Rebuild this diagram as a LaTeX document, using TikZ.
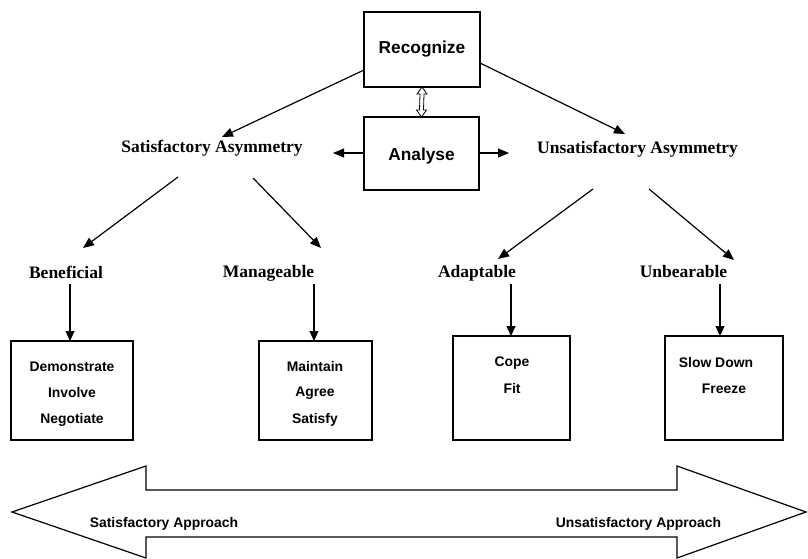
\documentclass[tikz,border=0pt]{standalone}
\usepackage{fontspec}
\setmainfont{Liberation Serif}
\setsansfont{Liberation Sans}
\usetikzlibrary{arrows.meta,calc}
\begin{document}
\begin{tikzpicture}[x=1pt,y=-1pt,
  lab/.style={font=\rmfamily\bfseries\fontsize{17.5}{20}\selectfont, inner sep=0pt},
  boxtxt/.style={font=\sffamily\bfseries\fontsize{13.9}{16}\selectfont, inner sep=0pt},
  bigtxt/.style={font=\sffamily\bfseries\fontsize{17.3}{20}\selectfont, inner sep=0pt},
  frame/.style={draw, line width=1.4pt, inner sep=0pt, outer sep=0pt},
  conn/.style={line width=1.2pt, -{Triangle[length=11pt,width=9pt]}},
  vconn/.style={line width=1.2pt, -{Triangle[length=10pt,width=9pt]}}]
\useasboundingbox (0,0) rectangle (808,559);
% top boxes
\node[frame, minimum width=116pt, minimum height=75pt] (rec) at (422,49.5) {};
\node[bigtxt] (rect) at (422,49) {Recognize};
\node[frame, minimum width=115pt, minimum height=73pt] (ana) at (421.5,153.5) {};
\node[bigtxt] (anat) at (421.5,156) {Analyse};
% double arrow between
\draw[line width=0.8pt] (rec.south) -- ++(5,7) -- ++(-3,0) -- ($(ana.north)+(2,-7)$) -- ++(3,0) -- (ana.north) -- ++(-5,-7) -- ++(3,0) -- ($(rec.south)+(-2,7)$) -- ++(-3,0) -- cycle;
% labels
\node[lab] (sa) at (212,148) {Satisfactory Asymmetry};
\node[lab] (ua) at (637.5,149) {Unsatisfactory Asymmetry};
\node[lab] (ben) at (66,272) {Beneficial};
\node[lab] (man) at (268.5,273) {Manageable};
\node[lab] (ada) at (477,273) {Adaptable};
\node[lab] (unb) at (683.5,272) {Unbearable};
% coordinates for connector ends
\coordinate (recL) at (364,70);
\coordinate (recR) at (480,63);
\coordinate (saIn) at (222,137);
\coordinate (uaIn) at (625,134);
\coordinate (saOut) at (333,153);
\coordinate (uaOut) at (509,153);
\coordinate (saL) at (178,177);
\coordinate (saR) at (253,178);
\coordinate (benIn) at (83,248);
\coordinate (manIn) at (321,248);
\coordinate (uaL) at (593,189);
\coordinate (uaR) at (649,189);
\coordinate (adaIn) at (498,259);
\coordinate (unbIn) at (734,260);
\coordinate (benB) at (70,284);
\coordinate (manB) at (314,284);
\coordinate (adaB) at (511,284);
\coordinate (unbB) at (720,284);
% bottom boxes
\node[frame, minimum width=122pt, minimum height=99pt] (b1) at (72,390.5) {};
\node[frame, minimum width=113pt, minimum height=99pt] (b2) at (315.5,390.5) {};
\node[frame, minimum width=117pt, minimum height=104pt] (b3) at (511.5,388) {};
\node[frame, minimum width=118pt, minimum height=104pt] (b4) at (724,388) {};
\node[boxtxt] (t11) at (72,367) {Demonstrate};
\node[boxtxt] (t12) at (72,393) {Involve};
\node[boxtxt] (t13) at (72,420) {Negotiate};
\node[boxtxt] (t21) at (315,367) {Maintain};
\node[boxtxt] (t22) at (315,393) {Agree};
\node[boxtxt] (t23) at (315,420) {Satisfy};
\node[boxtxt] (t31) at (512,363) {Cope};
\node[boxtxt] (t32) at (512,389) {Fit};
\node[boxtxt] (t41) at (716,363) {Slow Down};
\node[boxtxt] (t42) at (724,389) {Freeze};
% connectors
\draw[conn] (recL) -- (saIn);
\draw[conn] (recR) -- (uaIn);
\draw[conn] (ana.west |- saOut) -- (saOut);
\draw[conn] (ana.east |- uaOut) -- (uaOut);
\draw[conn] (saL) -- (benIn);
\draw[conn] (saR) -- (manIn);
\draw[conn] (uaL) -- (adaIn);
\draw[conn] (uaR) -- (unbIn);
\draw[vconn] (benB) -- (benB |- b1.north);
\draw[vconn] (manB) -- (manB |- b2.north);
\draw[vconn] (adaB) -- (adaB |- b3.north);
\draw[vconn] (unbB) -- (unbB |- b4.north);
% big double arrow
\draw[line width=1.2pt, line join=miter] (12,512) -- (146,466) -- (146,490) -- (677,490) -- (677,466) -- (806,512) -- (677,558) -- (677,537) -- (146,537) -- (146,558) -- cycle;
\node[boxtxt] (sapp) at (164,524) {Satisfactory Approach};
\node[boxtxt] (uapp) at (638.5,524) {Unsatisfactory Approach};
\end{tikzpicture}
\end{document}
